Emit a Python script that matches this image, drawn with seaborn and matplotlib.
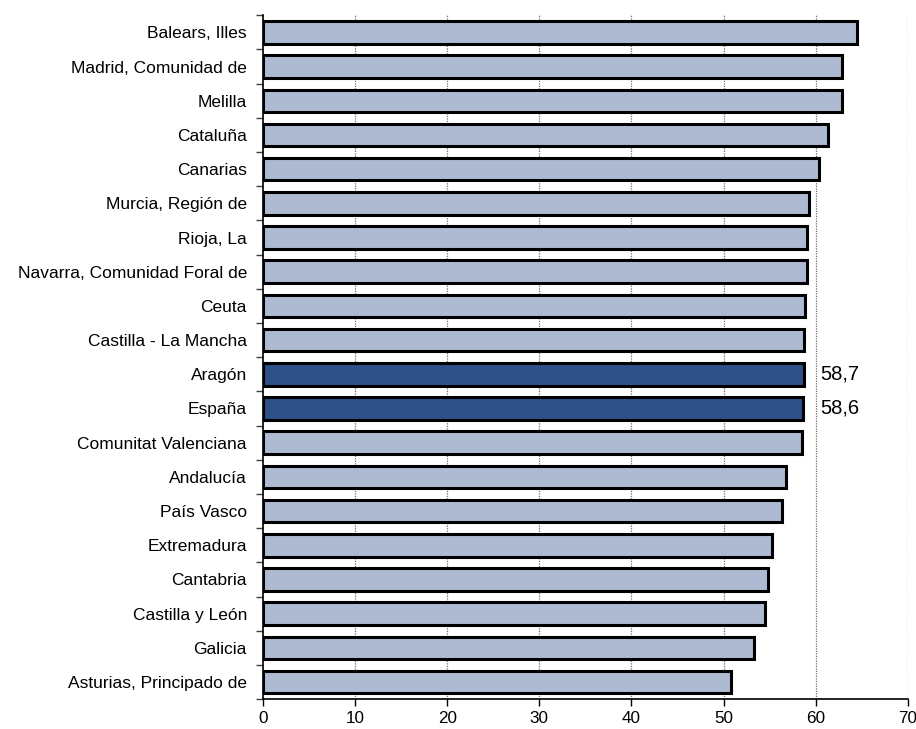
import numpy as np
import pandas as pd
import matplotlib
matplotlib.use("Agg")
import matplotlib.pyplot as plt
import seaborn as sns

# Data
regions = ["Balears, Illes", "Madrid, Comunidad de", "Melilla", "Cataluña", "Canarias",
           "Murcia, Región de", "Rioja, La", "Navarra, Comunidad Foral de", "Ceuta",
           "Castilla - La Mancha", "Aragón", "España", "Comunitat Valenciana", "Andalucía",
           "País Vasco", "Extremadura", "Cantabria", "Castilla y León", "Galicia",
           "Asturias, Principado de"]
values = [64.5, 62.9, 62.9, 61.3, 60.4, 59.3, 59.1, 59.05, 58.8, 58.75,
          58.7, 58.6, 58.5, 56.8, 56.3, 55.3, 54.8, 54.5, 53.3, 50.8]
highlight = ["Aragón", "España"]
labels = {"Aragón": "58,7", "España": "58,6"}
xticks = [0, 10, 20, 30, 40, 50, 60, 70]

df = pd.DataFrame({"region": regions, "value": values})
df["group"] = np.where(df["region"].isin(highlight), "dark", "light")

sns.set_style("white")
plt.rcParams["font.family"] = ["Liberation Sans", "DejaVu Sans"]
plt.rcParams["text.color"] = "black"
plt.rcParams["xtick.color"] = "black"
plt.rcParams["ytick.color"] = "black"

fig, ax = plt.subplots(figsize=(9.16, 7.29), dpi=100)
fig.subplots_adjust(left=0.287, right=0.991, top=0.979, bottom=0.041)

# dotted vertical gridlines behind bars
for t in xticks[1:]:
    ax.axvline(t, color="#707070", linestyle=(0, (1, 1)), linewidth=0.9, zorder=0)

sns.barplot(data=df, x="value", y="region", hue="group",
            palette={"light": "#adbad2", "dark": "#2f5089"}, saturation=1,
            dodge=False, width=0.66, edgecolor="black", linewidth=2.2,
            legend=False, ax=ax, zorder=2)

for i, r in enumerate(regions):
    if r in labels:
        ax.text(60.5, i, labels[r], va="center", ha="left", fontsize=14.5)

ax.set_xlim(0, 70)
ax.set_ylim(len(regions) - 0.5, -0.5)
ax.set_xticks(xticks)
ax.set_xlabel("")
ax.set_ylabel("")
ax.tick_params(axis="x", labelsize=12.3, direction="out", length=5, width=1, bottom=True)
ax.tick_params(axis="y", which="major", labelsize=12.5, length=0, pad=11.5)
ax.set_yticks(np.arange(-0.5, len(regions), 1), minor=True)
ax.tick_params(axis="y", which="minor", direction="out", length=5, width=1, left=True,
               color="#404040")

for s in ["top", "right"]:
    ax.spines[s].set_visible(False)
for s in ["left", "bottom"]:
    ax.spines[s].set_color("black")
    ax.spines[s].set_linewidth(1.2)

plt.savefig("out.png", dpi=100)
